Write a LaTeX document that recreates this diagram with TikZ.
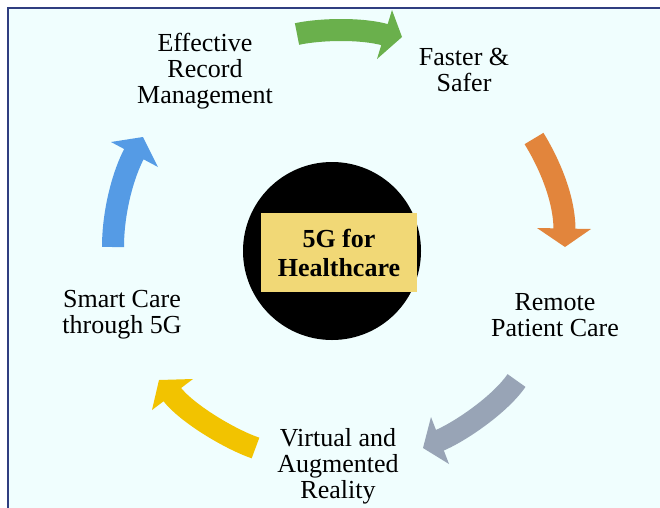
\documentclass[tikz,border=0pt]{standalone}
\usepackage{fontspec}
\setmainfont{Liberation Serif}

\definecolor{bgcyan}{RGB}{240,254,254}
\definecolor{framebl}{RGB}{47,62,128}
\definecolor{arrgreen}{RGB}{106,176,76}
\definecolor{arrorange}{RGB}{226,133,60}
\definecolor{arrgray}{RGB}{152,164,182}
\definecolor{arryellow}{RGB}{242,195,0}
\definecolor{arrblue}{RGB}{85,155,229}
\definecolor{boxyellow}{RGB}{241,216,118}

\tikzset{
  topic/.style={align=center, inner sep=0pt, font=\fontsize{26}{26}\selectfont},
  shaft/.style={line width=22pt, line cap=butt},
}

\begin{document}
\begin{tikzpicture}[x=1pt, y=-1pt]
    % Canvas and frame
    \useasboundingbox (0,0) rectangle (660,507);
    \fill[white] (0,0) rectangle (660,507);
    \filldraw[fill=bgcyan, draw=framebl, line width=1.5pt] (8,8) rectangle (680,530);

    % Centre hub
    \node[circle, fill=black, minimum size=178pt, inner sep=0pt] (hub) at (332,251) {};
    \node[fill=boxyellow, minimum width=156pt, minimum height=79pt, inner sep=0pt,
          align=center, font=\bfseries\fontsize{26}{29}\selectfont] (core) at (339,252.5) {5G for\\Healthcare};

    % Topics round the hub
    \node[topic] (records) at (205,71) {Effective\\Record\\Management};
    \node[topic] (faster) at (464,70) {Faster \&\\Safer};
    \node[topic] (remote) at (555,315) {Remote\\Patient Care};
    \node[topic] (virtual) at (338,466) {Virtual and\\Augmented\\Reality};
    \node[topic] (smart) at (122,315) {Smart Care\\through 5G};

    % Block arrows: tail and shaft end of each
    \coordinate (gA) at (297,34);   \coordinate (gB) at (386,35);
    \coordinate (oA) at (534,138.5); \coordinate (oB) at (564.5,230);
    \coordinate (yA) at (516.5,380.5); \coordinate (yB) at (438,441);
    \coordinate (wA) at (255.5,448); \coordinate (wB) at (171,393);
    \coordinate (bA) at (113,247);  \coordinate (bB) at (135,152);

    % Green: records -> faster
    \draw[shaft, arrgreen] (gA) .. controls (320,29) and (362,28) .. (gB);
    \fill[arrgreen] (392,10) -- (402,37) -- (377,59) -- cycle;

    % Orange: faster -> remote
    \draw[shaft, arrorange] (oA) .. controls (546,158) and (564.5,195) .. (oB);
    \fill[arrorange] (537,228) -- (565,247) -- (591,229) -- cycle;

    % Gray: remote -> virtual
    \draw[shaft, arrgray] (yA) .. controls (499.6,405.2) and (458,433) .. (yB);
    \fill[arrgray] (431,417) -- (423,448) -- (449,464) -- cycle;

    % Yellow: virtual -> smart
    \draw[shaft, arryellow] (wA) .. controls (229.5,439) and (186,413) .. (wB);
    \fill[arryellow] (193,379) -- (159,380) -- (152,410) -- cycle;

    % Blue: smart -> records
    \draw[shaft, arrblue] (bA) .. controls (113,212) and (123,174) .. (bB);
    \fill[arrblue] (111,142) -- (143,137) -- (158,167) -- cycle;
\end{tikzpicture}
\end{document}
